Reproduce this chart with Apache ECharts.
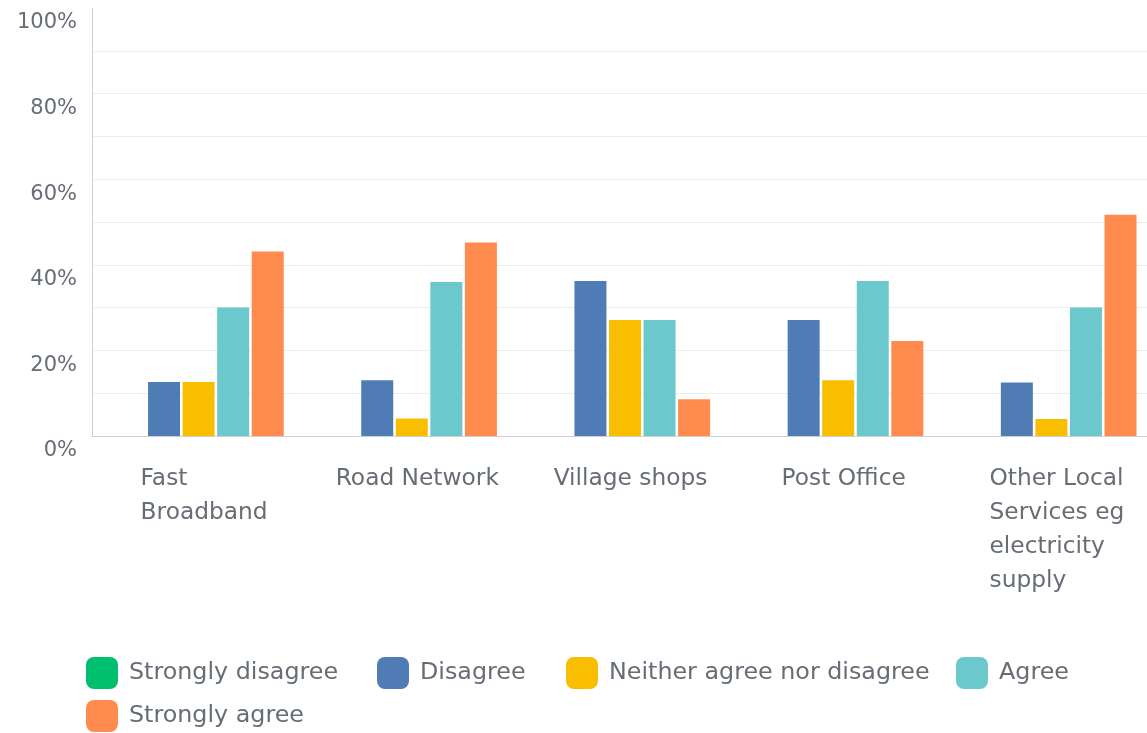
<!DOCTYPE html>
<html>
<head>
<meta charset="utf-8">
<title>Local services survey</title>
<script src="https://cdn.jsdelivr.net/npm/echarts@6/dist/echarts.min.js"></script>
<style>
  html, body { margin: 0; padding: 0; background: #ffffff; overflow: hidden; }
  /* the plot runs slightly past the right edge of the window */
  #chart { width: 1160px; height: 733px; }
</style>
</head>
<body>
<div id="chart"></div>
<script>
// Services asked about
const categories = [
  'Fast Broadband',
  'Road Network',
  'Village shops',
  'Post Office',
  'Other Local Services eg electricity supply'
];

// Response options, in legend order
const responseNames = [
  'Strongly disagree',
  'Disagree',
  'Neither agree nor disagree',
  'Agree',
  'Strongly agree'
];

// Share of respondents (%) per service
const stronglyDisagree = [0, 0, 0, 0, 0];
const disagree         = [12.6, 13.0, 36.2, 27.1, 12.5];
const neither          = [12.6, 4.1, 27.1, 13.0, 4.0];
const agree            = [30.0, 36.0, 27.1, 36.2, 30.0];
const stronglyAgree    = [43.1, 45.2, 8.6, 22.2, 51.7];

// Y-axis tick values that carry a label
const yTickLabels = [0, 20, 40, 60, 80, 100];

const palette = ['#00BF6F', '#507CB6', '#F9BE00', '#6BC8CD', '#FF8B4F'];
const seriesValues = [stronglyDisagree, disagree, neither, agree, stronglyAgree];

const FONT = '"DejaVu Sans", sans-serif';
const TEXT = '#676d75';

// Break a category name into short lines at word boundaries
function wrapWords(text, maxChars) {
  const words = text.split(' ');
  const lines = [];
  let cur = '';
  words.forEach(w => {
    if (!cur) { cur = w; }
    else if ((cur + ' ' + w).length <= maxChars) { cur += ' ' + w; }
    else { lines.push(cur); cur = w; }
  });
  if (cur) lines.push(cur);
  return lines;
}

const chart = echarts.init(document.getElementById('chart'), null, { renderer: 'canvas' });

// Hide the top grid line; others light grey
const gridColors = [];
for (let v = 0; v <= 100; v += 10) gridColors.push(v === 100 ? 'rgba(0,0,0,0)' : '#ececec');

// Legend entries sit at fixed slots: four on the first row, one on the second
const legendSlots = [
  { left: 86,  top: 657 },
  { left: 377, top: 657 },
  { left: 566, top: 657 },
  { left: 956, top: 657 },
  { left: 86,  top: 700 }
];
const legends = responseNames.map((name, i) => ({
  left: legendSlots[i].left,
  top: legendSlots[i].top,
  padding: 0,
  itemWidth: 32,
  itemHeight: 32,
  icon: 'roundRect',
  data: [name],
  textStyle: {
    fontFamily: FONT,
    fontSize: 23.8,
    color: TEXT,
    padding: [0, 0, 0, 6]
  }
}));

chart.setOption({
  animation: false,
  backgroundColor: '#ffffff',
  textStyle: { fontFamily: FONT },
  grid: {
    left: 92,
    top: 8,
    width: 1066,
    height: 428,
    containLabel: false
  },
  legend: legends,
  xAxis: {
    type: 'category',
    data: categories,
    axisTick: { show: false },
    axisLine: { lineStyle: { color: '#cfcfcf', width: 1 } },
    axisLabel: {
      interval: 0,
      margin: 26,
      padding: [0, 0, 0, 11],
      formatter: function (value) {
        return wrapWords(value, 13).map(l => '{l|' + l + '}').join('\n');
      },
      rich: {
        l: {
          align: 'left',
          fontFamily: FONT,
          fontSize: 23.3,
          lineHeight: 34,
          color: TEXT
        }
      }
    }
  },
  yAxis: {
    type: 'value',
    min: 0,
    max: 100,
    interval: 10,
    axisLine: { show: true, lineStyle: { color: '#cfcfcf', width: 1 } },
    axisTick: { show: false },
    splitLine: { show: true, lineStyle: { color: gridColors, width: 1 } },
    axisLabel: {
      margin: 15,
      fontFamily: FONT,
      fontSize: 21,
      color: TEXT,
      verticalAlign: 'top',
      lineHeight: 30,
      formatter: function (v) {
        return yTickLabels.indexOf(v) >= 0 ? v + '%' : '';
      }
    }
  },
  series: responseNames.map((name, i) => ({
    name: name,
    type: 'bar',
    data: seriesValues[i],
    barWidth: 32,
    barGap: '8%',
    itemStyle: { color: palette[i] },
    emphasis: { disabled: true }
  }))
});
</script>
</body>
</html>
